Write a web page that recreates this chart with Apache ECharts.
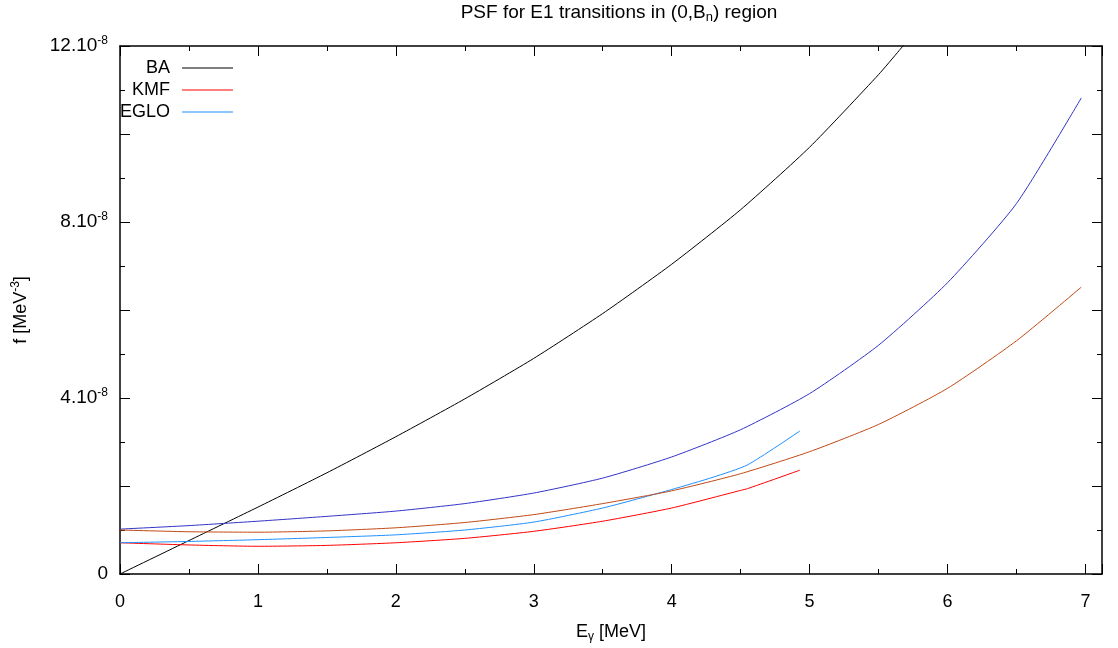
<!DOCTYPE html>
<html>
<head>
<meta charset="utf-8">
<script src="https://cdn.jsdelivr.net/npm/echarts@6/dist/echarts.min.js"></script>
<style>html,body{margin:0;padding:0;background:#fff}#c{width:1118px;height:648px}</style>
</head>
<body>
<div id="c"></div>
<script>
// values of f are in units of 1e-8 MeV^-3
const eBA   = [0, 0.5, 1, 1.5, 2, 2.5, 3, 3.5, 4, 4.5, 5, 5.5, 5.65, 5.8];
const fBA   = [0, 0.76, 1.52, 2.3, 3.12, 3.98, 4.9, 5.92, 7.04, 8.28, 9.7, 11.35, 11.9, 12.46];

const eKMF  = [0, 0.5, 1, 1.5, 2, 2.5, 3, 3.5, 4, 4.5, 4.55, 4.93];
const fKMF  = [0.71, 0.66, 0.63, 0.65, 0.71, 0.81, 0.97, 1.2, 1.5, 1.9, 1.94, 2.36];

const eEGLO = [0, 0.5, 1, 1.5, 2, 2.5, 3, 3.5, 4, 4.3, 4.55, 4.93];
const fEGLO = [0.71, 0.74, 0.78, 0.83, 0.89, 1.0, 1.18, 1.5, 1.92, 2.2, 2.48, 3.25];

const eHi   = [0, 0.5, 1, 1.5, 2, 2.5, 3, 3.5, 4, 4.5, 5, 5.5, 6, 6.5, 6.97];
const fHi   = [1.02, 1.1, 1.2, 1.31, 1.43, 1.6, 1.84, 2.18, 2.66, 3.28, 4.1, 5.2, 6.62, 8.42, 10.82];

const eLo   = [0, 0.5, 1, 1.5, 2, 2.5, 3, 3.5, 4, 4.5, 5, 5.5, 6, 6.5, 6.97];
const fLo   = [1.0, 0.96, 0.95, 0.98, 1.05, 1.17, 1.35, 1.6, 1.89, 2.28, 2.78, 3.4, 4.22, 5.3, 6.52];

const xTicks = [0, 1, 2, 3, 4, 5, 6, 7];
const yLabelTicks = [0, 4, 8, 12];

function pairs(xs, ys) { return xs.map((x, i) => [x, ys[i]]); }

const FONT = 'Liberation Sans';
const rich = {
  a: { fontSize: 18, fontFamily: FONT, color: '#000' },
  sup: { fontSize: 12, fontFamily: FONT, color: '#000', padding: [0, 0, 10, 0] },
  sub: { fontSize: 12, fontFamily: FONT, color: '#000', padding: [9, 0, 0, 0] }
};
const yRich = {
  a: { fontSize: 19, fontFamily: FONT, color: '#000' },
  sup: { fontSize: 12, fontFamily: FONT, color: '#000', padding: [0, 0, 10, 0] }
};
const titleRich = {
  a: { fontSize: 19, fontFamily: FONT, color: '#000' },
  sub: { fontSize: 13, fontFamily: FONT, color: '#000', padding: [10, 0, 0, 0] }
};

const chart = echarts.init(document.getElementById('c'));
function mkSeries(name, xs, ys, color) {
  return {
    name: name, type: 'line', data: pairs(xs, ys), showSymbol: false, symbol: 'none',
    smooth: 0.2, clip: true,
    lineStyle: { color: color, width: 1 },
    itemStyle: { color: color }, emphasis: { disabled: true }, animation: false
  };
}
const axisCommon = {
  axisLine: { show: true, onZero: false, lineStyle: { color: '#000', width: 1.5 } },
  axisTick: { show: true, inside: true, length: 10, lineStyle: { color: '#000', width: 1 } },
  minorTick: { show: true, splitNumber: 2, length: 5, lineStyle: { color: '#000', width: 1 } },
  splitLine: { show: false }
};
chart.setOption({
  animation: false,
  backgroundColor: '#fff',
  title: {
    text: '{a|PSF for E1 transitions in (0,B}{sub|n}{a|) region}',
    left: 614, top: -4, textAlign: 'center',
    textStyle: { rich: titleRich, fontSize: 19, fontWeight: 'normal' }
  },
  legend: {
    data: ['BA', 'KMF', 'EGLO'],
    orient: 'vertical', left: 108, top: 57, padding: 0,
    align: 'right', icon: 'rect', itemWidth: 51, itemHeight: 1.2, itemGap: 0,
    textStyle: { fontSize: 18, fontFamily: FONT, color: '#000', width: 62, align: 'right', padding: [0, 7, 0, 0], lineHeight: 22 }
  },
  grid: { left: 120, right: 16, top: 46, bottom: 72, containLabel: false },
  xAxis: [
    Object.assign({}, axisCommon, {
      type: 'value', min: 0, max: 7.12, interval: 1, position: 'bottom',
      name: '{a|E}{sub|γ}{a| [MeV]}', nameLocation: 'middle', nameGap: 48,
      nameTextStyle: { rich: rich },
      axisLabel: { margin: 19, fontSize: 18, fontFamily: FONT, color: '#000',
        formatter: v => (xTicks.indexOf(v) >= 0 ? String(v) : '') }
    }),
    Object.assign({}, axisCommon, {
      type: 'value', min: 0, max: 7.12, interval: 1, position: 'top',
      axisLabel: { show: false }
    })
  ],
  yAxis: [
    Object.assign({}, axisCommon, {
      type: 'value', min: 0, max: 12, interval: 2, position: 'left',
      name: '{a|f [MeV}{sup|-3}{a|]}', nameLocation: 'middle', nameGap: 88, nameRotate: 90,
      nameTextStyle: { rich: rich },
      axisLabel: { margin: 12, rich: yRich,
        formatter: v => {
          if (yLabelTicks.indexOf(v) < 0) return '';
          if (v === 0) return '{a|0}';
          return '{a|' + v + '.10}{sup|-8}';
        } }
    }),
    Object.assign({}, axisCommon, {
      type: 'value', min: 0, max: 12, interval: 2, position: 'right',
      axisLabel: { show: false }
    })
  ],
  series: [
    mkSeries('BA', eBA, fBA, '#000000'),
    mkSeries('KMF', eKMF, fKMF, '#ff0000'),
    mkSeries('EGLO', eEGLO, fEGLO, '#1e90ff'),
    mkSeries('upper', eHi, fHi, '#3232c8'),
    mkSeries('lower', eLo, fLo, '#c04a14')
  ]
});
</script>
</body>
</html>
